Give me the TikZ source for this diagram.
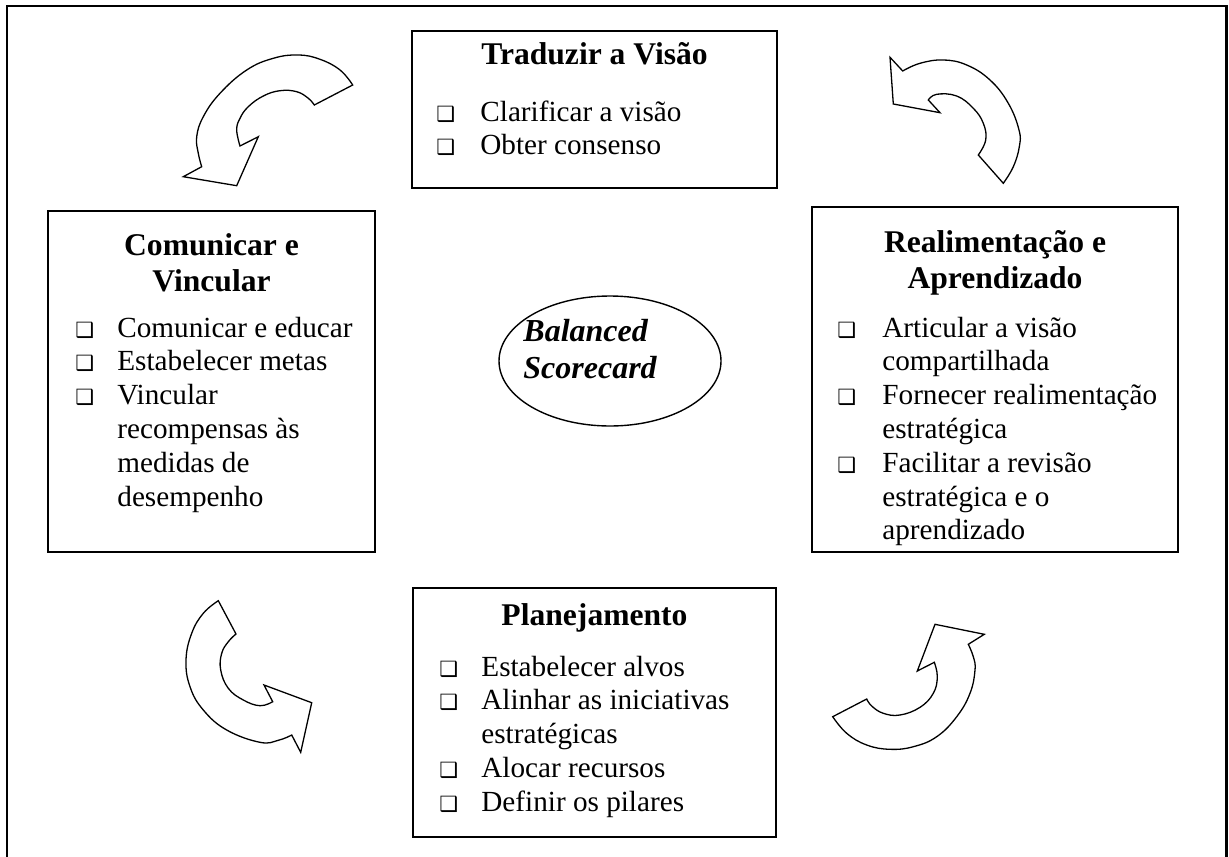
\documentclass[tikz,border=0pt]{standalone}
\usepackage{fontspec}
\setmainfont{Liberation Serif}
\newfontfamily\bulfont{DejaVu Sans}
\usetikzlibrary{shapes.geometric}

% shadowed square bullet
\newcommand\bx{{\bulfont\fontsize{10.5}{12}\selectfont ❑}}

\begin{document}
\begin{tikzpicture}[x=0.5pt,y=-0.5pt,
  box/.style={draw, line width=0.8pt, inner sep=0pt, outer sep=0pt},
  ttl/.style={inner sep=0pt, font=\fontsize{15.8}{18}\selectfont\bfseries},
  lst/.style={inner sep=0pt, font=\fontsize{14.6}{16.9}\selectfont},
  curl/.style={draw, line width=0.65pt, fill=white, line join=miter}]
\useasboundingbox (0,0) rectangle (1229,856);
\begin{scope}
  \clip (0,0) rectangle (1229,856);
  \draw[line width=1.2pt] (7,6) rectangle (1226.5,880);
\end{scope}

% the four stages
\node[box, minimum width=182.5pt, minimum height=78.5pt] (tv) at (594.5,109.5) {};
\node[box, minimum width=163.5pt, minimum height=170.5pt] (cv) at (211.5,381.5) {};
\node[box, minimum width=183pt, minimum height=172.5pt] (ra) at (995,379.5) {};
\node[box, minimum width=181.5pt, minimum height=124.5pt] (pl) at (594.5,712.5) {};

% centre
\node[draw, ellipse, line width=0.7pt, inner sep=0pt, minimum width=111pt, minimum height=65pt] (bsc) at (610,361) {};
\node[anchor=base west, inner sep=0pt, font=\fontsize{16}{18.5}\selectfont\bfseries\itshape] (bsct) at (523,341)
  {\begin{tabular}[t]{@{}l@{}}Balanced\\Scorecard\end{tabular}};

% titles
\node[ttl, anchor=base] (tvt) at (594.5,65) {Traduzir a Visão};
\node[ttl, anchor=base] (cvt) at (211.5,255)
  {\begin{tabular}[t]{@{}c@{}}Comunicar e\\Vincular\end{tabular}};
\node[ttl, anchor=base] (rat) at (995,252)
  {\begin{tabular}[t]{@{}c@{}}Realimentação e\\Aprendizado\end{tabular}};
\node[ttl, anchor=base] (plt) at (594.5,625) {Planejamento};

% item lists
\node[lst, anchor=base west] (tvl) at (436,121)
  {\begin{tabular}[t]{@{}p{22pt}@{}l@{}}
   \bx & Clarificar a visão\\
   \bx & Obter consenso
   \end{tabular}};
\node[lst, anchor=base west] (cvl) at (75,337)
  {\begin{tabular}[t]{@{}p{21pt}@{}l@{}}
   \bx & Comunicar e educar\\
   \bx & Estabelecer metas\\
   \bx & Vincular\\
       & recompensas às\\
       & medidas de\\
       & desempenho
   \end{tabular}};
\node[lst, anchor=base west] (ral) at (837,337)
  {\begin{tabular}[t]{@{}p{22.5pt}@{}l@{}}
   \bx & Articular a visão\\
       & compartilhada\\
   \bx & Fornecer realimentação\\
       & estratégica\\
   \bx & Facilitar a revisão\\
       & estratégica e o\\
       & aprendizado
   \end{tabular}};
\node[lst, anchor=base west] (pll) at (439,676)
  {\begin{tabular}[t]{@{}p{21pt}@{}l@{}}
   \bx & Estabelecer alvos\\
   \bx & Alinhar as iniciativas\\
       & estratégicas\\
   \bx & Alocar recursos\\
   \bx & Definir os pilares
   \end{tabular}};

% curved block arrows
\draw[curl] plot[smooth, tension=0.7] coordinates {(352.7,85) (340,70) (320,59.3) (298.3,55) (273.3,58.3) (246.7,70) (220,93.3) (203.3,116.7) (196.7,136.7) (198.3,153.3) (201.7,166.7)}
  -- (183.3,176.7) -- (236.7,185.7) -- (258.3,136.7) -- (240,146)
  -- plot[smooth, tension=0.7] coordinates {(240,146) (236.7,130) (240,118.3) (248.3,106.7) (263.3,96) (280,90.7) (296.7,91.7) (308.3,98.3) (314.3,105)}
  -- cycle;

\draw[curl] (890,57.3)
  -- plot[smooth, tension=0.7] coordinates {(902.7,71) (920,63.3) (943.3,60) (966.7,65) (990,80) (1008.3,103.3) (1019,130) (1019.3,146.7) (1013.3,166.7) (1003.3,183.3)}
  -- (978.3,155)
  -- plot[smooth, tension=0.7] coordinates {(978.3,155) (985.7,140) (983.3,123.3) (973.3,108.3) (956.7,96) (936.7,94.3) (928.3,100)}
  -- (940,112.7) -- (893.3,104) -- cycle;

\draw[curl] plot[smooth, tension=0.7] coordinates {(218.3,600.7) (203.3,613.3) (191.7,633.3) (186,660) (190,686.7) (203.3,710) (226.7,730) (260,742.3) (278.3,740.3) (291.7,735)}
  -- (300.7,752.3) -- (311.7,702.7) -- (264,685) -- (272.7,701.7)
  -- plot[smooth, tension=0.7] coordinates {(272.7,701.7) (260,705.7) (243.3,700) (228.3,688.3) (220.7,670) (221.7,653.3) (228.3,641.7) (236,634)}
  -- cycle;

\draw[curl] plot[smooth, tension=0.7] coordinates {(832.7,716.7) (846.7,733.3) (866.7,745) (890,749.3) (913.3,746.7) (936.7,736.7) (956.7,716.7) (970,693.3) (975,670) (973.3,656.7) (968.3,644.3)}
  -- (984.3,634.3) -- (935,624.3) -- (917.3,671) -- (934.3,662.3)
  -- plot[smooth, tension=0.7] coordinates {(934.3,662.3) (937.3,676.7) (933.3,693.3) (920,707.3) (900,715) (883.3,713.3) (871.7,706) (866.7,699)}
  -- cycle;
\end{tikzpicture}
\end{document}
